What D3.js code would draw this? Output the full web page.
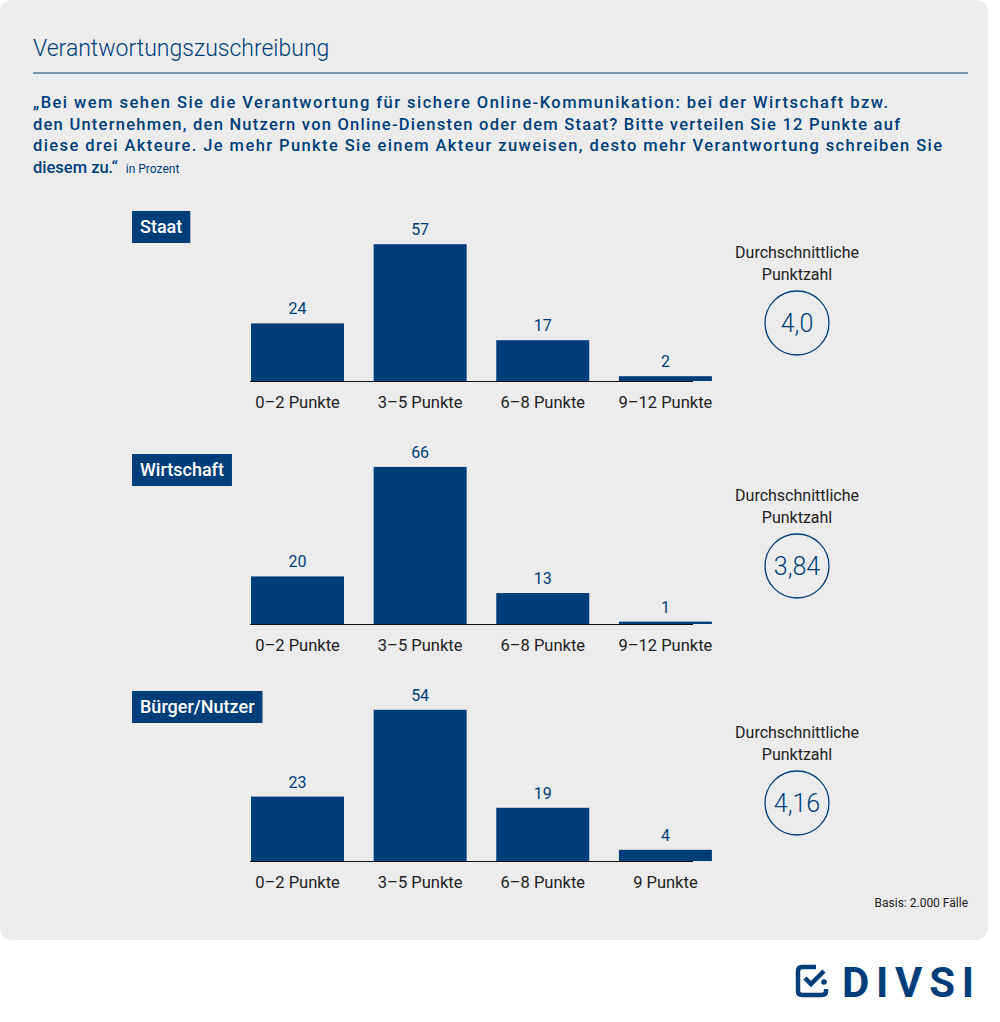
<!DOCTYPE html>
<html><head><meta charset="utf-8">
<script src="https://cdn.jsdelivr.net/npm/d3@7"></script>
<style>body{margin:0;background:#fff}svg{display:block;font-family:Roboto,"DejaVu Sans",sans-serif}</style>
</head><body><div id="chart"></div>
<script>
var categories = ["0–2 Punkte", "3–5 Punkte", "6–8 Punkte", "9–12 Punkte"];
var categoriesBuerger = ["0–2 Punkte", "3–5 Punkte", "6–8 Punkte", "9 Punkte"];
var groups = ["Staat", "Wirtschaft", "Bürger/Nutzer"];
var staatValues = [24, 57, 17, 2];
var wirtschaftValues = [20, 66, 13, 1];
var buergerValues = [23, 54, 19, 4];
var averages = ["4,0", "3,84", "4,16"];

var blue = "#003e7a";
var svg = d3.select("#chart").append("svg").attr("width", 1000).attr("height", 1022);

svg.append("rect").attr("x", 0).attr("y", 0).attr("width", 988).attr("height", 940)
  .attr("rx", 12).attr("fill", "#ececec");

svg.append("text").attr("x", 33).attr("y", 56).attr("fill", blue)
  .style("font-size", "23px").style("font-weight", 300).text("Verantwortungszuschreibung");
svg.append("line").attr("x1", 33).attr("x2", 968).attr("y1", 73).attr("y2", 73)
  .attr("stroke", blue).attr("stroke-width", 1);

var question = [
  "„Bei wem sehen Sie die Verantwortung für sichere Online-Kommunikation: bei der Wirtschaft bzw.",
  "den Unternehmen, den Nutzern von Online-Diensten oder dem Staat? Bitte verteilen Sie 12 Punkte auf",
  "diese drei Akteure. Je mehr Punkte Sie einem Akteur zuweisen, desto mehr Verantwortung schreiben Sie",
  "diesem zu.“"
];
question.forEach(function (q, i) {
  var t = svg.append("text").attr("x", 33).attr("y", 108 + i * 21.5).attr("fill", blue)
    .style("font-size", "16.5px").style("font-weight", 500).attr("textLength", i < 3 ? [855, 867, 909][i] : null)
    .text(q);
  if (i == 3) t.append("tspan").attr("dx", 8).style("font-size", "12px").style("font-weight", 400).text("in Prozent");
});

var panels = [
  {name: groups[0], values: staatValues, cats: categories, base: 381, pxMax: 240, tagY: 211, avg: averages[0], cy: 323},
  {name: groups[1], values: wirtschaftValues, cats: categories, base: 624, pxMax: 238, tagY: 454, avg: averages[1], cy: 566},
  {name: groups[2], values: buergerValues, cats: categoriesBuerger, base: 861, pxMax: 280, tagY: 691, avg: averages[2], cy: 803}
];

var x = d3.scaleBand().domain(d3.range(4)).range([251, 717]).paddingInner(0.2).paddingOuter(0).align(0);

panels.forEach(function (p) {
  var g = svg.append("g");
  var y = d3.scaleLinear().domain([0, 100]).range([p.base, p.base - p.pxMax]);

  // tag
  var tag = g.append("text").attr("x", 140).attr("y", p.tagY + 22).attr("fill", "#fff")
    .style("font-size", "18px").style("font-weight", 500).text(p.name);
  var w = tag.node().getComputedTextLength();
  g.insert("rect", "text").attr("x", 132).attr("y", p.tagY).attr("width", w + 16).attr("height", 32).attr("fill", blue);

  g.selectAll(".bar").data(p.values).enter().append("rect")
    .attr("x", function (d, i) { return x(i); })
    .attr("y", function (d) { return y(d); })
    .attr("width", 93)
    .attr("height", function (d) { return y(0) - y(d); })
    .attr("fill", blue);

  g.selectAll(".val").data(p.values).enter().append("text")
    .attr("x", function (d, i) { return x(i) + 46.5; })
    .attr("y", function (d) { return y(d) - 9; })
    .attr("text-anchor", "middle").attr("fill", blue).style("font-size", "16px").text(function (d) { return d; });

  g.append("line").attr("x1", 250).attr("x2", 693).attr("y1", p.base + 0.5).attr("y2", p.base + 0.5)
    .attr("stroke", "#111").attr("stroke-width", 1);

  g.selectAll(".cat").data(p.cats).enter().append("text")
    .attr("x", function (d, i) { return x(i) + 46.5; })
    .attr("y", p.base + 27)
    .attr("text-anchor", "middle").attr("fill", "#222").style("font-size", "16.5px").text(function (d) { return d; });

  g.append("text").attr("x", 797).attr("y", p.cy - 65).attr("text-anchor", "middle").attr("fill", "#222")
    .style("font-size", "16px").text("Durchschnittliche");
  g.append("text").attr("x", 797).attr("y", p.cy - 43).attr("text-anchor", "middle").attr("fill", "#222")
    .style("font-size", "16px").text("Punktzahl");
  g.append("circle").attr("cx", 797).attr("cy", p.cy).attr("r", 32)
    .attr("fill", "none").attr("stroke", blue).attr("stroke-width", 1.3);
  g.append("text").attr("x", 797).attr("y", p.cy + 9).attr("text-anchor", "middle").attr("fill", blue)
    .style("font-size", "25px").style("font-weight", 300).text(p.avg);
});

svg.append("text").attr("x", 968).attr("y", 907).attr("text-anchor", "end").attr("fill", "#222")
  .style("font-size", "12px").text("Basis: 2.000 Fälle");

// logo
var logo = svg.append("g").attr("transform", "translate(796,965)");
logo.append("path").attr("d", "M20,2 H6 Q2,2 2,6 V26 Q2,30 6,30 H26 Q30,30 30,26 V24")
  .attr("fill", "none").attr("stroke", blue).attr("stroke-width", 4.5);
logo.append("path").attr("d", "M9,13 L15,19 L28,6").attr("fill", "none").attr("stroke", blue).attr("stroke-width", 4.5);
logo.append("circle").attr("cx", 28).attr("cy", 17).attr("r", 2.8).attr("fill", blue);
svg.append("text").attr("x", 842).attr("y", 997).attr("fill", blue)
  .style("font-size", "42px").style("font-weight", 700).attr("textLength", 132).text("DIVSI");
</script></body></html>
